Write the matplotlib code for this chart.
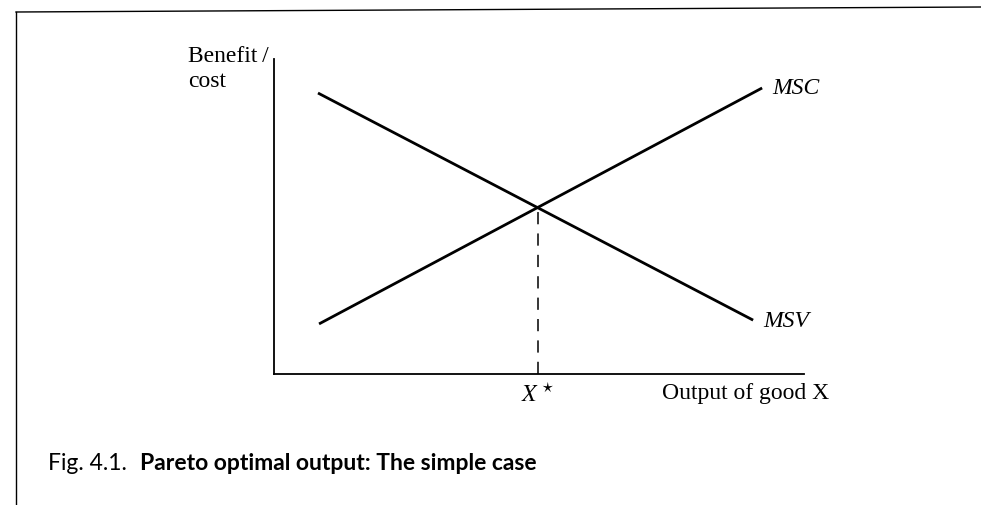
import matplotlib.pyplot as plt
from matplotlib.lines import Line2D

# curve end points (axis units, 0-10 on both axes)
msv_x = [0.83, 9.04]
msv_y = [8.92, 1.71]
msc_x = [0.85, 9.21]
msc_y = [1.59, 9.08]
x_star = 4.98
y_star = 5.29

serif = ['Liberation Serif', 'DejaVu Serif']
cap_font = ['Lato', 'DejaVu Sans']

fig = plt.figure(figsize=(9.81, 5.06), dpi=100)
ax = fig.add_axes([274 / 981, 131 / 506, 530 / 981, 315 / 506])
ax.set_xlim(0, 10)
ax.set_ylim(0, 10)

ax.plot(msv_x, msv_y, color='black', lw=2.0, solid_capstyle='butt')
ax.plot(msc_x, msc_y, color='black', lw=2.0, solid_capstyle='butt')
ax.plot([x_star, x_star], [0, y_star], color='black', lw=1.1, dashes=(8, 6))

ax.text(msc_x[1] + 0.19, msc_y[1], 'MSC', family=serif, style='italic',
        fontsize=17, va='center', ha='left')
ax.text(msv_x[1] + 0.19, msv_y[1], 'MSV', family=serif, style='italic',
        fontsize=17, va='center', ha='left')

# only left and bottom axis lines
for s in ['top', 'right']:
    ax.spines[s].set_visible(False)
for s in ['left', 'bottom']:
    ax.spines[s].set_linewidth(1.3)
ax.set_xticks([])
ax.set_yticks([])

ax.text(x_star, -0.25, r'$X^\star$', fontsize=17, ha='center', va='top',
        math_fontfamily='stix')
ax.text(7.32, -0.25, 'Output of good X', family=serif, fontsize=17,
        ha='left', va='top')
ax.text(-1.62, 10.45, 'Benefit\u2009/\ncost', family=serif, fontsize=17,
        ha='left', va='top', linespacing=1.25)

# page frame
fig.add_artist(Line2D([16 / 981, 1.0], [1 - 13 / 506, 1 - 8 / 506],
                      transform=fig.transFigure, color='black', lw=1.0))
fig.add_artist(Line2D([16 / 981, 16 / 981], [1 - 13 / 506, 0],
                      transform=fig.transFigure, color='black', lw=1.0))

# caption
fig.text(48 / 981, 1 - 470 / 506, 'Fig. 4.1.', family=cap_font,
         fontsize=16.5, va='baseline', ha='left')
fig.text(140 / 981, 1 - 470 / 506, 'Pareto optimal output: The simple case',
         family=cap_font, fontweight='bold', fontsize=16.5, va='baseline', ha='left')

fig.savefig('out.png', dpi=100)
